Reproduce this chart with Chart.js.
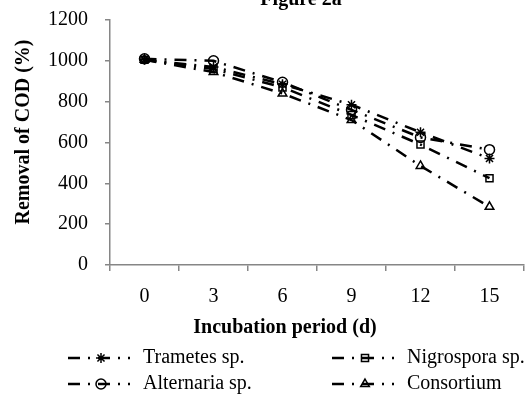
<!DOCTYPE html>
<html><head><meta charset="utf-8">
<script src="https://cdn.jsdelivr.net/npm/chart.js@4/dist/chart.umd.min.js"></script>
<style>html,body{margin:0;padding:0;background:#fff;}</style>
</head><body>
<canvas id="c" width="531" height="394"></canvas>
<script>
const categories = ['0', '3', '6', '9', '12', '15'];
const trametes   = [1005, 970, 885, 785, 650, 522];
const nigrospora = [1005, 960, 870, 735, 590, 425];
const alternaria = [1010, 1000, 895, 760, 625, 565];
const consortium = [1005, 945, 840, 710, 485, 285];
const seriesNames = ['Trametes sp.', 'Nigrospora sp.', 'Alternaria sp.', 'Consortium'];
const yTickValues = [0, 200, 400, 600, 800, 1000, 1200];
const chartTitle = 'Figure 2a';
const xTitle = 'Incubation period (d)';
const yTitle = 'Removal of COD (%)';

const FONT = '"Liberation Serif", "Times New Roman", serif';
const AXIS = '#868686';
const DASH = [12, 8, 2, 8];

function mk(label, data, style) {
  return {
    label, data, pointStyle: style,
    borderColor: '#000', borderWidth: 2.5, borderDash: DASH,
    pointRadius: 5, pointHoverRadius: 5, pointBorderWidth: 1.5,
    pointBorderColor: '#000', pointBackgroundColor: 'rgba(0,0,0,0)',
    fill: false, tension: 0
  };
}

function drawMarker(ctx, style, x, y, r) {
  ctx.beginPath();
  if (style === 'circle') {
    ctx.arc(x, y, r, 0, Math.PI * 2);
  } else if (style === 'rect') {
    const s = r * Math.SQRT1_2;
    ctx.rect(x - s, y - s, 2 * s, 2 * s);
  } else if (style === 'triangle') {
    ctx.moveTo(x, y - r);
    ctx.lineTo(x + r * 0.866, y + r * 0.5);
    ctx.lineTo(x - r * 0.866, y + r * 0.5);
    ctx.closePath();
  } else if (style === 'star') {
    for (let k = 0; k < 4; k++) {
      const a = k * Math.PI / 4;
      ctx.moveTo(x - r * Math.sin(a), y - r * Math.cos(a));
      ctx.lineTo(x + r * Math.sin(a), y + r * Math.cos(a));
    }
  }
  ctx.stroke();
}

const annot = {
  id: 'annot',
  afterDraw(chart) {
    const ctx = chart.ctx;
    ctx.save();
    ctx.fillStyle = '#000';
    ctx.font = 'bold 20px ' + FONT;
    ctx.textAlign = 'center';
    ctx.textBaseline = 'alphabetic';
    ctx.fillText(chartTitle, 301, 5);
    ctx.textBaseline = 'middle';
    ctx.fillText(xTitle, 285, 328);
    ctx.save();
    ctx.translate(24, 132);
    ctx.rotate(-Math.PI / 2);
    ctx.fillText(yTitle, 0, 0);
    ctx.restore();
    // legend
    const colX = [68, 332], rowY = [358, 384];
    chart.data.datasets.forEach((ds, i) => {
      const x0 = colX[i % 2], y = rowY[Math.floor(i / 2)];
      ctx.strokeStyle = '#000';
      ctx.lineWidth = ds.borderWidth;
      ctx.setLineDash(ds.borderDash);
      ctx.beginPath();
      ctx.moveTo(x0, y);
      ctx.lineTo(x0 + 62, y);
      ctx.stroke();
      ctx.setLineDash([]);
      ctx.lineWidth = 1.5;
      drawMarker(ctx, ds.pointStyle, x0 + 33, y, 5);
      ctx.font = '20px ' + FONT;
      ctx.textAlign = 'left';
      ctx.textBaseline = 'middle';
      ctx.fillText(ds.label, x0 + 75, y);
    });
    ctx.restore();
  }
};

new Chart(document.getElementById('c'), {
  type: 'line',
  data: {
    labels: categories,
    datasets: [
      mk(seriesNames[0], trametes, 'star'),
      mk(seriesNames[1], nigrospora, 'rect'),
      mk(seriesNames[2], alternaria, 'circle'),
      mk(seriesNames[3], consortium, 'triangle')
    ]
  },
  options: {
    responsive: false,
    devicePixelRatio: 1,
    animation: false,
    layout: { padding: { top: 20, right: 7, left: 0, bottom: 0 } },
    plugins: { legend: { display: false }, title: { display: false }, tooltip: { enabled: false } },
    scales: {
      x: {
        type: 'category',
        offset: true,
        grid: { display: true, drawOnChartArea: false, drawTicks: true, tickLength: 6, offset: true, color: AXIS, lineWidth: 1.5 },
        border: { display: true, color: AXIS, width: 1.5 },
        ticks: { color: '#000', font: { family: FONT, size: 20 }, padding: 14, maxRotation: 0, autoSkip: false },
        afterFit(s) { s.height = 129; s.paddingTop = 0; s.paddingLeft = 0; s.paddingRight = 0; s.paddingBottom = 0; }
      },
      y: {
        min: 0, max: 1200,
        afterBuildTicks(s) { s.ticks = yTickValues.map(v => ({ value: v })); },
        grid: { display: true, drawOnChartArea: false, drawTicks: true, tickLength: 5, color: AXIS, lineWidth: 1.5 },
        border: { display: true, color: AXIS, width: 1.5 },
        ticks: { color: '#000', font: { family: FONT, size: 20 }, padding: 17, callback: v => String(v) },
        afterFit(s) { s.width = 110; s.paddingTop = 0; s.paddingBottom = 0; s.paddingLeft = 0; s.paddingRight = 0; }
      }
    }
  },
  plugins: [annot]
});
</script>
</body></html>
